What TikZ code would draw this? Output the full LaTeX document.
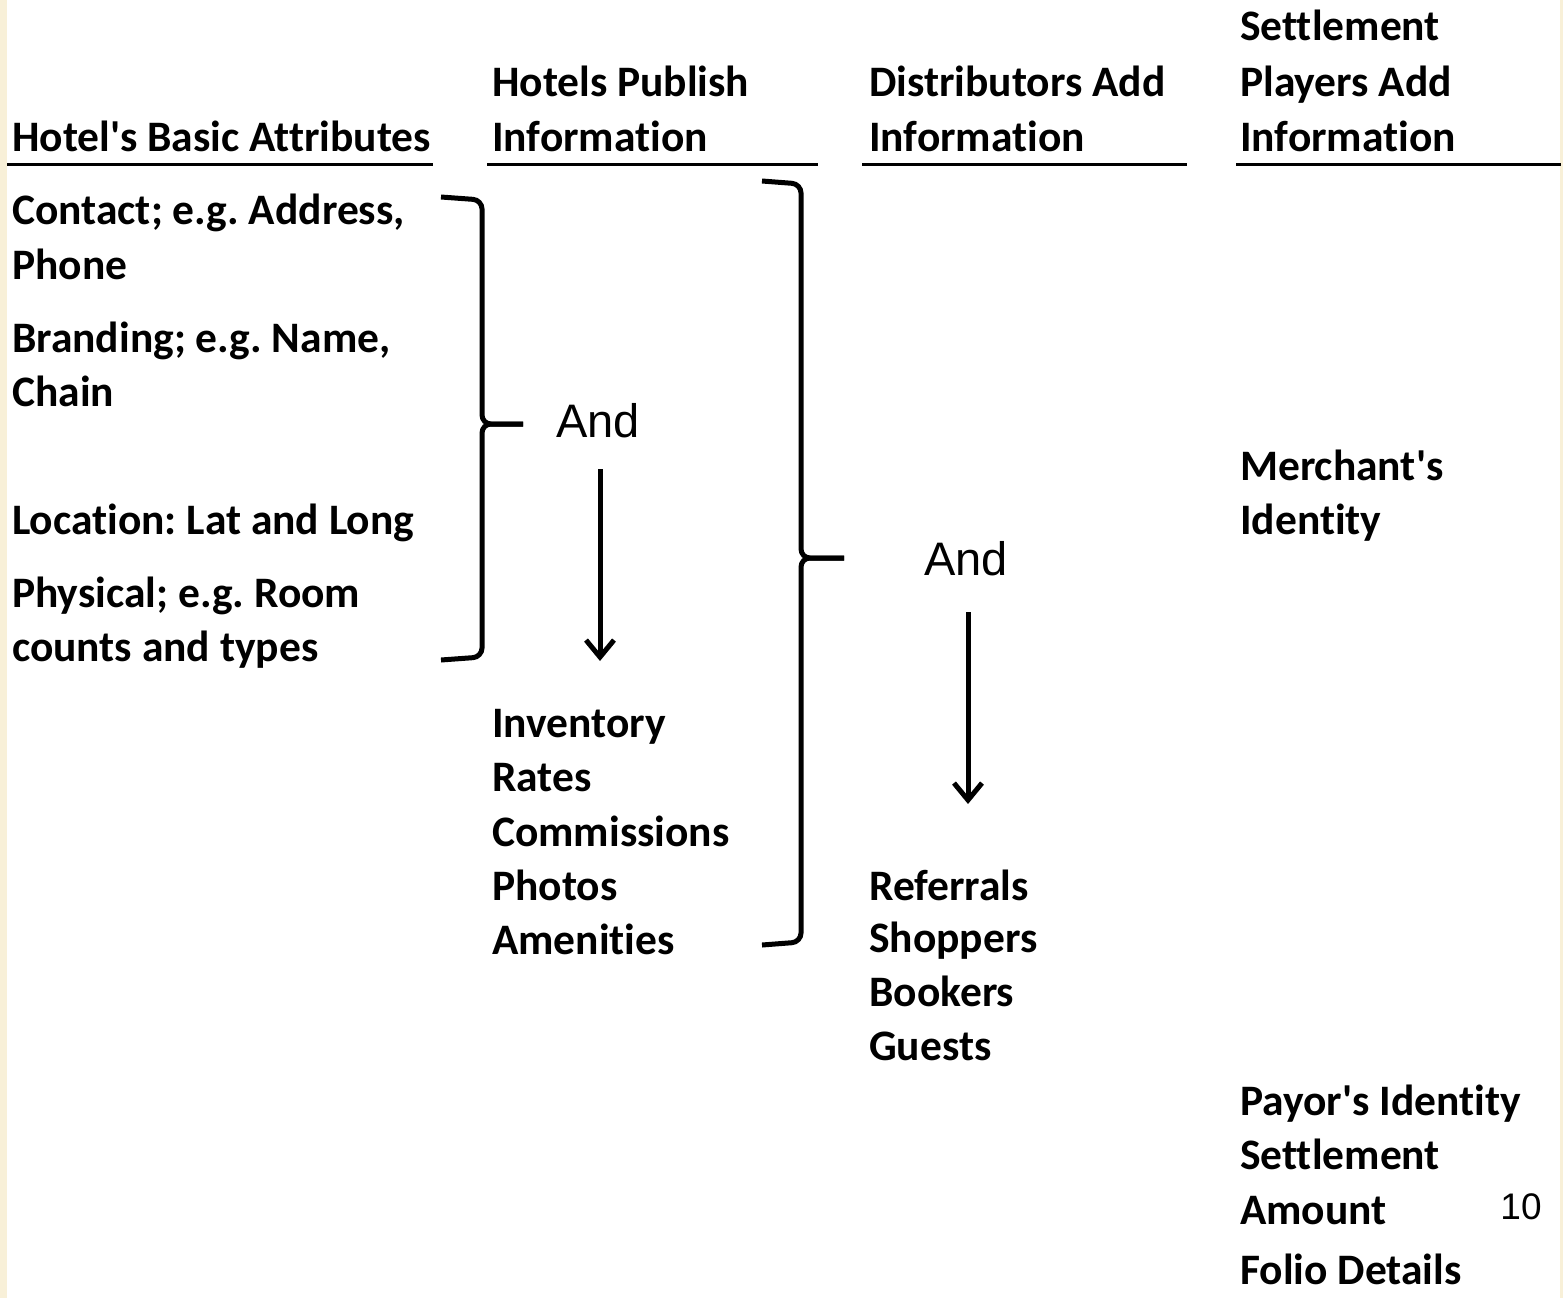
\documentclass[tikz,border=0pt]{standalone}
\usepackage{fontspec}
\newfontfamily\calibri{Carlito}[Ligatures=CommonOff]
\newfontfamily\arialfont{Liberation Sans}
\usetikzlibrary{arrows.meta}
\definecolor{cream}{HTML}{F8F0D8}
\frenchspacing

\begin{document}
\begin{tikzpicture}[
  x=1pt,y=-1pt,
  lbl/.style={anchor=base west,inner sep=0pt,font=\calibri\fontsize{43.5}{50}\selectfont\bfseries},
  andlbl/.style={inner sep=0pt,font=\arialfont\fontsize{47}{56}\selectfont},
  hrule/.style={line width=3pt},
  brc/.style={line width=5pt,rounded corners=9pt},
  arr/.style={line width=5pt,-{Straight Barb[length=17pt,width=28pt,line width=5pt]}},
]
  \useasboundingbox (0,0) rectangle (1563,1298);
  \fill[cream] (0,0) rectangle (7,1298);
  \fill[cream] (1560,0) rectangle (1563,1298);

  % column heads
  \node[lbl] (h1) at (12,151) {Hotel's Basic Attributes};
  \node[lbl] (h2a) at (492,96) {Hotels Publish};
  \node[lbl] (h2b) at (492,151) {Information};
  \node[lbl] (h3a) at (869,96) {Distributors Add};
  \node[lbl] (h3b) at (869,151) {Information};
  \node[lbl] (h4a) at (1240,41) {Settlement};
  \node[lbl] (h4b) at (1240,96) {Players Add};
  \node[lbl] (h4c) at (1240,151) {Information};
  \draw[hrule] (7,164) -- (433,164);
  \draw[hrule] (487,164) -- (818,164);
  \draw[hrule] (862,164) -- (1187,164);
  \draw[hrule] (1236,164) -- (1561,164);

  % hotel basics
  \foreach \t/\y [count=\i] in {{Contact; e.g. Address,}/224, Phone/279,
      {Branding; e.g. Name,}/352, Chain/406, Location: Lat and Long/534,
      Physical; e.g. Room/607, counts and types/661}
    \node[lbl] (a\i) at (12,\y) {\t};

  % published by hotels
  \foreach \t/\y [count=\i] in {Inventory/737, Rates/791, Commissions/846,
      Photos/900, Amenities/954}
    \node[lbl] (b\i) at (492,\y) {\t};

  % added by distributors
  \foreach \t/\y [count=\i] in {Referrals/900, Shoppers/952, Bookers/1006,
      Guests/1060}
    \node[lbl] (c\i) at (869,\y) {\t};

  % settlement players
  \foreach \t/\y [count=\i] in {Merchant's/480, Identity/534,
      Payor's Identity/1115, Settlement/1169, Amount/1224, Folio Details/1284}
    \node[lbl] (d\i) at (1240,\y) {\t};

  \node[andlbl] (and1) at (598,421) {And};
  \node[andlbl] (and2) at (966,559) {And};
  \node[inner sep=0pt,anchor=base,font=\arialfont\fontsize{37}{44}\selectfont] (pg) at (1521,1219) {10};

  % braces
  \draw[brc] (441,197) -- (482,200) -- (482,424) -- (523,424);
  \draw[brc] (441,660) -- (482,657) -- (482,424) -- (523,424);
  \draw[brc] (762,181) -- (801,184) -- (801,558) -- (844,558);
  \draw[brc] (762,945) -- (801,942) -- (801,558) -- (844,558);

  % arrows
  \coordinate (e1) at (600,661);
  \coordinate (e2) at (968,804);
  \draw[arr] ([yshift=-31pt]and1.south -| e1) -- (e1);
  \draw[arr] ([yshift=-36pt]and2.south -| e2) -- (e2);
\end{tikzpicture}
\end{document}
